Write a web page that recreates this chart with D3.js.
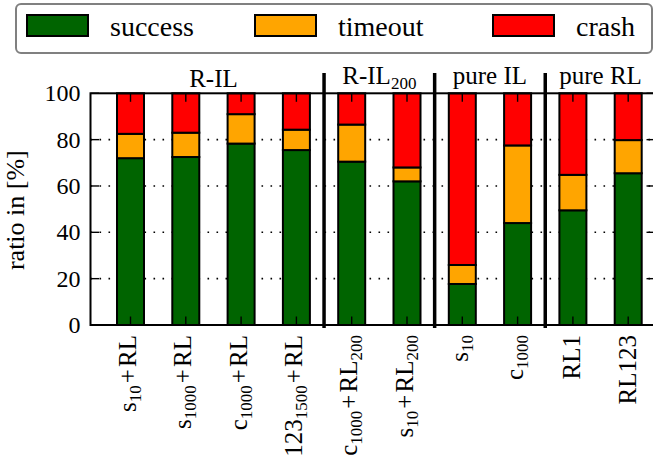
<!DOCTYPE html>
<html>
<head>
<meta charset="utf-8">
<script src="https://cdn.jsdelivr.net/npm/d3@7"></script>
<style>
  html, body { margin: 0; padding: 0; background: #fff; }
  svg { display: block; }
  text { font-family: "Liberation Serif", "Times New Roman", serif; fill: #000; }
</style>
</head>
<body>
<svg id="chart" width="653" height="466"></svg>
<script>
// ---- data -------------------------------------------------------------
// x labels use "_{...}" for subscripts
const tickLabels = [
  "s_{10}+RL", "s_{1000}+RL", "c_{1000}+RL", "123_{1500}+RL",
  "c_{1000}+RL_{200}", "s_{10}+RL_{200}",
  "s_{10}", "c_{1000}",
  "RL1", "RL123"
];
const success = [72, 72.5, 78.3, 75.5, 70.5, 62, 17.7, 44, 49.5, 65.5];
const timeout = [10.5, 10.5, 12.7, 8.8, 16, 6, 8.2, 33.5, 15.3, 14.3];
const crash   = [17.5, 17, 9, 15.7, 13.5, 32, 74.1, 22.5, 35.2, 20.2];

const groupNames = ["R-IL", "R-IL_{200}", "pure IL", "pure RL"];
const groupSizes = [4, 2, 2, 2];

const seriesKeys   = ["success", "timeout", "crash"];
const seriesColors = ["#006400", "#ffa500", "#ff0000"];
const yTicks = [0, 20, 40, 60, 80, 100];

// ---- layout -----------------------------------------------------------
const W = 653, H = 466;
const axisLeft = 90.5, axisRight = 655, axisTop = 93.3, axisBottom = 325;
const firstCenter = 130.5, lastCenter = 628.2;
const barWidth = 27;
const tickLen = 8.5;

const svg = d3.select("#chart");

const x = d3.scalePoint().domain(d3.range(tickLabels.length)).range([firstCenter, lastCenter]);
const y = d3.scaleLinear().domain([0, 100]).range([axisBottom, axisTop]);

const rows = tickLabels.map((lab, i) => ({
  i, success: success[i], timeout: timeout[i], crash: crash[i]
}));
const stacked = d3.stack().keys(seriesKeys)(rows);
const color = d3.scaleOrdinal().domain(seriesKeys).range(seriesColors);

// writes a label with "_{..}" subscripts as tspans, tracking the baseline shift
function labelText(sel, str, size, subSize, subDrop) {
  const parts = str.split(/_\{([^}]*)\}/);
  let shift = 0;
  parts.forEach((p, k) => {
    if (!p) return;
    const isSub = k % 2 === 1;
    const target = isSub ? subDrop : 0;
    const txt = isSub ? p : p.replace(/\+/g, "\u200A+\u200A");
    sel.append("tspan")
      .attr("font-size", isSub ? subSize : size)
      .attr("dy", target - shift)
      .text(txt);
    shift = target;
  });
}

// ---- grid (dotted) ----------------------------------------------------
svg.append("g").selectAll("line")
  .data(yTicks.filter(v => v > 0 && v < 100))
  .join("line")
  .attr("x1", axisLeft).attr("x2", axisRight)
  .attr("y1", d => y(d)).attr("y2", d => y(d))
  .attr("stroke", "#000")
  .attr("stroke-width", 1.6)
  .attr("stroke-dasharray", "1.6 7.4");

// ---- stacked bars -----------------------------------------------------
svg.append("g").selectAll("g")
  .data(stacked)
  .join("g")
  .attr("fill", d => color(d.key))
  .selectAll("rect")
  .data(d => d)
  .join("rect")
  .attr("x", d => x(d.data.i) - barWidth / 2)
  .attr("width", barWidth)
  .attr("y", d => y(d[1]))
  .attr("height", d => y(d[0]) - y(d[1]))
  .attr("stroke", "#000")
  .attr("stroke-width", 2);

// ---- axis frame and ticks ---------------------------------------------
const frame = svg.append("g").attr("stroke", "#000").attr("fill", "none");
frame.append("rect")
  .attr("x", axisLeft).attr("y", axisTop)
  .attr("width", axisRight - axisLeft).attr("height", axisBottom - axisTop)
  .attr("stroke-width", 2);

// inward ticks on all four sides
yTicks.forEach(v => {
  frame.append("line").attr("x1", axisLeft).attr("x2", axisLeft + tickLen)
    .attr("y1", y(v)).attr("y2", y(v)).attr("stroke-width", 1.4);
  frame.append("line").attr("x1", axisRight).attr("x2", axisRight - tickLen)
    .attr("y1", y(v)).attr("y2", y(v)).attr("stroke-width", 1.4);
});
x.domain().forEach(i => {
  frame.append("line").attr("x1", x(i)).attr("x2", x(i))
    .attr("y1", axisTop).attr("y2", axisTop + tickLen).attr("stroke-width", 1.4);
  frame.append("line").attr("x1", x(i)).attr("x2", x(i))
    .attr("y1", axisBottom).attr("y2", axisBottom - tickLen).attr("stroke-width", 1.4);
});

// y tick labels
svg.append("g").selectAll("text")
  .data(yTicks)
  .join("text")
  .attr("x", axisLeft - 10)
  .attr("y", d => y(d))
  .attr("dy", "0.34em")
  .attr("text-anchor", "end")
  .attr("font-size", 24)
  .text(d => d);

// y axis title
svg.append("text")
  .attr("transform", `translate(24,${(axisTop + axisBottom) / 2 + 1}) rotate(-90)`)
  .attr("text-anchor", "middle")
  .attr("font-size", 26)
  .text("ratio in [%]");

// rotated x tick labels
tickLabels.forEach((lab, i) => {
  const hasSub = lab.includes("_{");
  const t = svg.append("text")
    .attr("transform", `translate(${x(i) + (hasSub ? 5.5 : 7.5)},335) rotate(-90)`)
    .attr("text-anchor", "end");
  labelText(t, lab, 25, 17, 5);
});

// ---- group separators and titles --------------------------------------
let start = 0;
const sepG = svg.append("g");
groupNames.forEach((name, g) => {
  const end = start + groupSizes[g] - 1;
  const cx = (x(start) + x(end)) / 2;
  const t = svg.append("text")
    .attr("x", cx)
    .attr("y", g === 0 ? 86.5 : 84)
    .attr("text-anchor", "middle");
  labelText(t, name, 25, 17, 5);
  if (g < groupNames.length - 1) {
    const sx = (x(end) + x(end + 1)) / 2;
    sepG.append("line")
      .attr("x1", sx).attr("x2", sx)
      .attr("y1", 73).attr("y2", axisBottom + 3)
      .attr("stroke", "#000").attr("stroke-width", 3.5);
  }
  start = end + 1;
});

// ---- legend -----------------------------------------------------------
const legend = svg.append("g");
legend.append("rect")
  .attr("x", 16).attr("y", 4)
  .attr("width", 636).attr("height", 49)
  .attr("rx", 5).attr("ry", 5)
  .attr("fill", "#fff")
  .attr("stroke", "#808080")
  .attr("stroke-width", 2);
const legendX = [27, 255, 493];
seriesKeys.forEach((k, j) => {
  legend.append("rect")
    .attr("x", legendX[j]).attr("y", 15)
    .attr("width", 61).attr("height", 21)
    .attr("fill", color(k))
    .attr("stroke", "#000").attr("stroke-width", 2);
  legend.append("text")
    .attr("x", legendX[j] + 83).attr("y", 36)
    .attr("font-size", 28)
    .text(k);
});
</script>
</body>
</html>
